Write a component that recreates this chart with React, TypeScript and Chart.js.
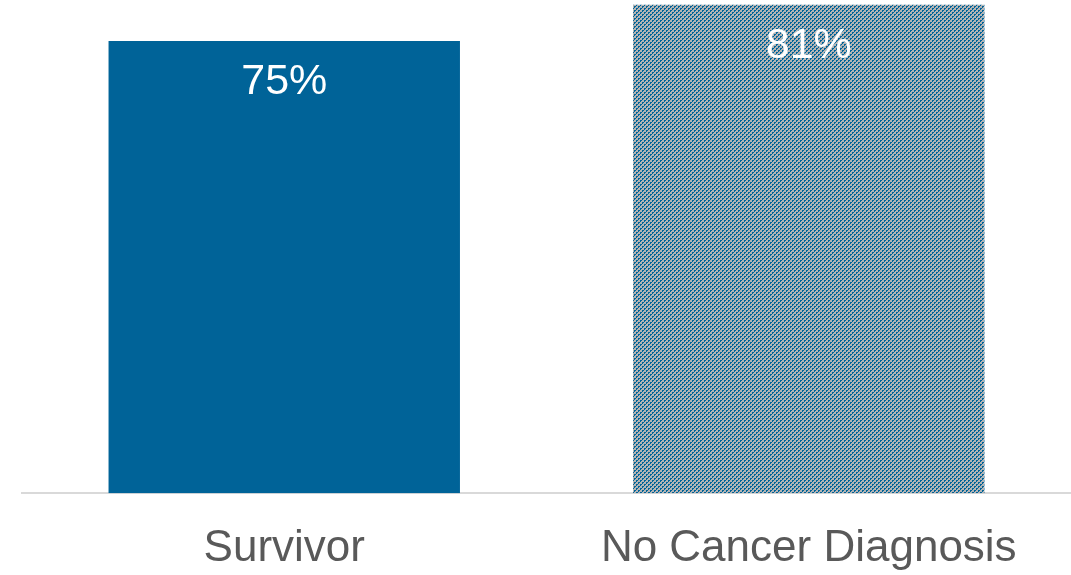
import React, { useEffect, useRef } from "react";
import { Chart, registerables } from "chart.js";

Chart.register(...registerables);

const categories: string[] = ["Survivor", "No Cancer Diagnosis"];
const values: number[] = [75, 81];
const valueLabels: string[] = ["75%", "81%"];

const BLUE = "#006398";
const GRAY = "#b4b4b4";

function makePattern(): CanvasPattern | string {
  const c = document.createElement("canvas");
  c.width = 4;
  c.height = 4;
  const ctx = c.getContext("2d");
  if (!ctx) return BLUE;
  ctx.fillStyle = GRAY;
  ctx.fillRect(0, 0, 4, 4);
  ctx.fillStyle = BLUE;
  ctx.fillRect(0, 0, 2, 2);
  ctx.fillRect(2, 2, 2, 2);
  ctx.fillStyle = GRAY;
  ctx.fillRect(1, 1, 1, 1);
  ctx.fillRect(3, 3, 1, 1);
  const p = ctx.createPattern(c, "repeat");
  return p || BLUE;
}

const labelPlugin = {
  id: "valueLabels",
  afterDatasetsDraw(chart: any) {
    const ctx = chart.ctx;
    const meta = chart.getDatasetMeta(0);
    ctx.save();
    ctx.fillStyle = "#ffffff";
    ctx.font = "43px 'Liberation Sans', sans-serif";
    ctx.textAlign = "center";
    ctx.textBaseline = "alphabetic";
    meta.data.forEach((bar: any, i: number) => {
      ctx.fillText(valueLabels[i], bar.x, bar.y + 53);
    });
    ctx.restore();
  },
};

export default function App() {
  const ref = useRef<HTMLCanvasElement | null>(null);
  useEffect(() => {
    if (!ref.current) return;
    const chart = new Chart(ref.current, {
      type: "bar",
      data: {
        labels: categories,
        datasets: [
          {
            data: values,
            backgroundColor: [BLUE, makePattern()],
            barPercentage: 0.67,
            categoryPercentage: 1,
          },
        ],
      },
      options: {
        animation: false,
        responsive: false,
        maintainAspectRatio: false,
        layout: { padding: { left: 22, right: 0, top: 0, bottom: 0 } },
        plugins: { legend: { display: false }, tooltip: { enabled: false } },
        scales: {
          y: { display: false, min: 0, max: 81.8 },
          x: {
            grid: { display: false },
            border: { display: true, color: "#d9d9d9", width: 2 },
            ticks: {
              color: "#595959",
              font: { family: "'Liberation Sans', sans-serif", size: 44 },
              padding: 21,
            },
          },
        },
      },
      plugins: [labelPlugin],
    });
    return () => chart.destroy();
  }, []);
  return (
    <div style={{ position: "fixed", left: 0, top: 0, width: 1071, height: 575, overflow: "hidden", background: "#fff" }}>
      <canvas ref={ref} width={1071} height={596} style={{ display: "block" }} />
    </div>
  );
}
